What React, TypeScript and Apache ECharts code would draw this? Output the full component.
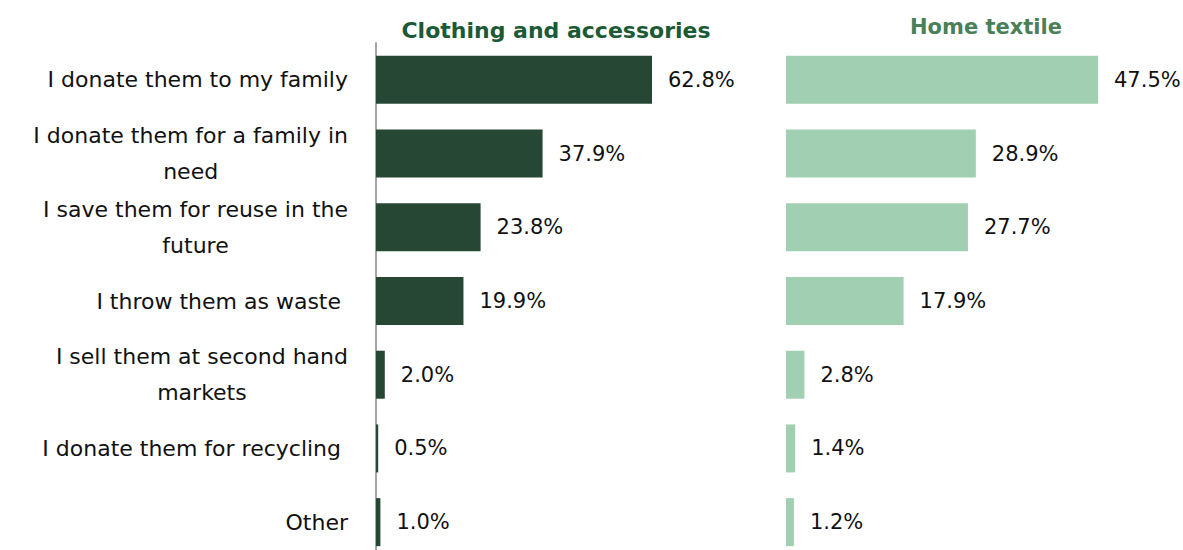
import React, { useEffect, useRef } from "react";
import * as echarts from "echarts";

const categories = [
  "I donate them to my family",
  "I donate them for a family in\nneed",
  "I save them for reuse in the\nfuture",
  "I throw them as waste ",
  "I sell them at second hand\nmarkets",
  "I donate them for recycling ",
  "Other",
];
const clothingValues = [62.8, 37.9, 23.8, 19.9, 2.0, 0.5, 1.0];
const homeTextileValues = [47.5, 28.9, 27.7, 17.9, 2.8, 1.4, 1.2];
const titles = ["Clothing and accessories", "Home textile"];

const FONT = "'DejaVu Sans', 'Noto Sans', sans-serif";

export default function App() {
  const ref = useRef<HTMLDivElement>(null);
  useEffect(() => {
    if (!ref.current) return;
    const chart = echarts.init(ref.current, null, { renderer: "svg" });
    const leftMax = 70;
    const rightMax = 60;
    const leftScale = 276 / 62.8;
    const rightScale = 312 / 47.5;
    const labelStyle = {
      show: true,
      position: "right" as const,
      distance: 16,
      color: "#111",
      fontSize: 21,
      fontFamily: FONT,
      formatter: (p: any) => p.value.toFixed(1) + "%",
    };
    chart.setOption({
      animation: false,
      backgroundColor: "#ffffff",
      title: [
        {
          text: titles[0],
          left: 551,
          top: 14,
          textAlign: "center",
          textStyle: { color: "#1b5a34", fontSize: 22, fontWeight: "bold", fontFamily: FONT },
        },
        {
          text: titles[1],
          left: 981,
          top: 11,
          textAlign: "center",
          textStyle: { color: "#4a7f58", fontSize: 21, fontWeight: "bold", fontFamily: FONT },
        },
      ],
      grid: [
        { left: 376, top: 43, width: leftMax * leftScale, height: 516 },
        { left: 786, top: 43, width: rightMax * rightScale, height: 516 },
      ],
      xAxis: [
        { gridIndex: 0, type: "value", min: 0, max: leftMax, show: false },
        { gridIndex: 1, type: "value", min: 0, max: rightMax, show: false },
      ],
      yAxis: [
        {
          gridIndex: 0,
          type: "category",
          inverse: true,
          data: categories,
          axisLine: { show: true, lineStyle: { color: "#a6a6a6", width: 2 } },
          axisTick: { show: false },
          axisLabel: {
            margin: 28,
            fontSize: 22,
            fontFamily: FONT,
            color: "#111",
            lineHeight: 36,
            formatter: (v: string) =>
              v
                .split("\n")
                .map((s) => "{c|" + s + "}")
                .join("\n"),
            rich: {
              c: { align: "center", fontSize: 22, fontFamily: FONT, color: "#111", lineHeight: 36 },
            },
          },
        },
        {
          gridIndex: 1,
          type: "category",
          inverse: true,
          data: categories,
          show: false,
        },
      ],
      series: [
        {
          type: "bar",
          xAxisIndex: 0,
          yAxisIndex: 0,
          data: clothingValues,
          barWidth: 48,
          itemStyle: { color: "#264733" },
          label: labelStyle,
        },
        {
          type: "bar",
          xAxisIndex: 1,
          yAxisIndex: 1,
          data: homeTextileValues,
          barWidth: 48,
          itemStyle: { color: "#a0cfb2" },
          label: labelStyle,
        },
      ],
    });
    return () => chart.dispose();
  }, []);
  return (
    <div
      style={{
        position: "absolute",
        left: 0,
        top: 0,
        width: 1183,
        height: 550,
        overflow: "hidden",
        background: "#fff",
      }}
    >
      <div ref={ref} style={{ width: 1183, height: 570 }} />
    </div>
  );
}
